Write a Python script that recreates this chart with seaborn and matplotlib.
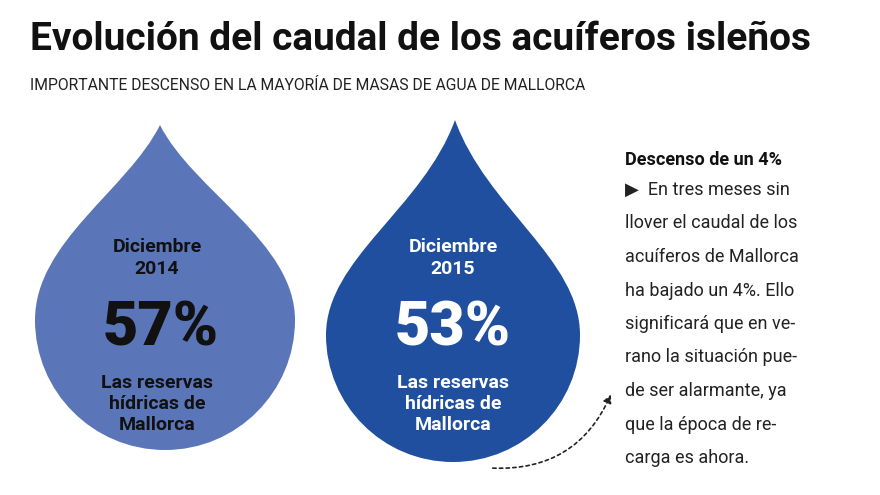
import matplotlib
matplotlib.use("Agg")
import matplotlib.pyplot as plt
import seaborn as sns
from matplotlib.path import Path
from matplotlib.patches import PathPatch, FancyArrowPatch

sns.set_theme(style="white")
plt.rcParams['font.family'] = ['Roboto', 'DejaVu Sans']

periods = ["Diciembre\n2014", "Diciembre\n2015"]
values = [57, 53]
caption = "Las reservas\nhídricas de\nMallorca"
drop_colors = ["#5b76b8", "#1f4f9e"]
value_colors = ["#111111", "#ffffff"]
label_colors = ["#111111", "#ffffff"]

title = "Evolución del caudal de los acuíferos isleños"
subtitle = "IMPORTANTE DESCENSO EN LA MAYORÍA DE MASAS DE AGUA DE MALLORCA"
side_head = "Descenso de un 4%"
side_lines = ["▶  En tres meses sin", "llover el caudal de los", "acuíferos de Mallorca",
              "ha bajado un 4%. Ello", "significará que en ve-", "rano la situación pue-",
              "de ser alarmante, ya", "que la época de re-", "carga es ahora."]

fig = plt.figure(figsize=(8.8, 4.95), dpi=100)
ax = fig.add_axes([0, 0, 1, 1])
ax.set_xlim(0, 880); ax.set_ylim(495, 0); ax.axis("off")

def drop(cx, cy, r, tipx, tipy, color):
    k = 0.5523
    verts = [(tipx, tipy),
             (tipx + r*0.25, cy - r*1.0), (cx + r, cy - r*0.6), (cx + r, cy),
             (cx + r, cy + r*k), (cx + r*k, cy + r), (cx, cy + r),
             (cx - r*k, cy + r), (cx - r, cy + r*k), (cx - r, cy),
             (cx - r, cy - r*0.6), (tipx - r*0.25, cy - r*1.0), (tipx, tipy)]
    codes = [Path.MOVETO] + [Path.CURVE4]*12
    ax.add_patch(PathPatch(Path(verts, codes), fc=color, ec="none"))

geo = [(165, 320, 130, 160, 125), (453, 335, 127, 455, 120)]
for i, (cx, cy, r, tx, ty) in enumerate(geo):
    drop(cx, cy, r, tx, ty, drop_colors[i])
    ax.text(cx - 8 if i == 0 else cx, 258, periods[i], ha="center", va="center",
            fontsize=14, fontweight="bold", color=label_colors[i], linespacing=1.25)
    ax.text(cx - 4 if i == 0 else cx, 328, f"{values[i]}%", ha="center", va="center",
            fontsize=44, fontweight="black", color=value_colors[i])
    ax.text(cx - 8 if i == 0 else cx, 404, caption, ha="center", va="center",
            fontsize=14, fontweight="bold", color=label_colors[i], linespacing=1.2)

ax.text(30, 40, title, fontsize=28, fontweight="bold", color="#111111", va="center")
ax.text(30, 85, subtitle, fontsize=11.3, color="#222222", va="center")

ax.text(625, 160, side_head, fontsize=13, fontweight="bold", color="#111111", va="center")
for j, ln in enumerate(side_lines):
    ax.text(625, 190 + j*33.5, ln, fontsize=13, color="#222222", va="center")

ax.add_patch(FancyArrowPatch((490, 468), (612, 392), connectionstyle="arc3,rad=0.35",
                             arrowstyle="-|>", mutation_scale=12, linestyle=(0, (2, 2)),
                             color="#222222", lw=1.2))
fig.savefig("out.png", dpi=100)
